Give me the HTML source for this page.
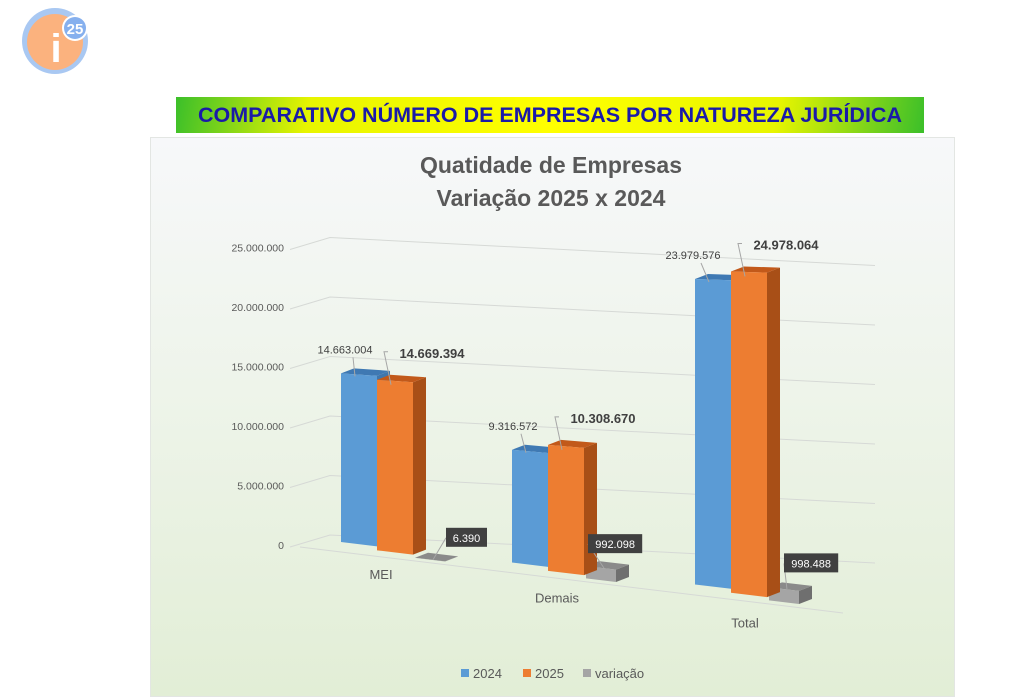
<!DOCTYPE html>
<html><head><meta charset="utf-8">
<style>
body{margin:0;width:1024px;height:695px;background:#fff;overflow:hidden;font-family:"Liberation Sans",sans-serif;position:relative}
#banner{position:absolute;left:176px;top:97px;width:748px;height:36px;background:linear-gradient(100deg,#3bbf2a 0%,#e8f500 18%,#ffff00 50%,#e8f500 80%,#3bbf2a 100%);display:flex;align-items:center;justify-content:center;font-weight:bold;font-size:21.5px;color:#1a1aa8}
#panel{position:absolute;left:150px;top:137px;width:803px;height:558px;background:linear-gradient(180deg,#f7f8fa 0%,#eef4ea 45%,#e2eed6 100%);border:1px solid #e3e6e3}
svg{position:absolute;left:0;top:0}
</style></head><body>
<svg width="100" height="80" style="left:0;top:0">
<circle cx="55" cy="41" r="33" fill="#a9c8f2"/><circle cx="55" cy="42" r="28" fill="#fbb27e"/>
<text x="56" y="62" font-size="40" font-weight="bold" fill="#fff" text-anchor="middle" font-family="Liberation Sans">i</text>
<circle cx="75" cy="28" r="13" fill="#fff"/><circle cx="75" cy="28" r="11" fill="#86b0ee"/>
<text x="75" y="34" font-size="15" font-weight="bold" fill="#fff" text-anchor="middle" font-family="Liberation Sans">25</text>
</svg>
<div id="banner">COMPARATIVO NÚMERO DE EMPRESAS POR NATUREZA JURÍDICA</div>
<div id="panel"></div>
<svg id="chart" width="1024" height="695"></svg>
<script>
const categories=["MEI","Demais","Total"];
const series2024=[14663004,9316572,23979576];
const series2025=[14669394,10308670,24978064];
const seriesVar=[6390,992098,998488];
const labels2024=["14.663.004","9.316.572","23.979.576"];
const labels2025=["14.669.394","10.308.670","24.978.064"];
const labelsVar=["6.390","992.098","998.488"];
const yTicks=[0,5000000,10000000,15000000,20000000,25000000];
const yTickLabels=["0","5.000.000","10.000.000","15.000.000","20.000.000","25.000.000"];

const svg=document.getElementById('chart');
const NS='http://www.w3.org/2000/svg';
function mk(tag,attrs,parent){const e=document.createElementNS(NS,tag);for(const k in attrs)e.setAttribute(k,attrs[k]);(parent||svg).appendChild(e);return e;}
const catX0=[341,512,695];const barW=36;
function floorY(x){return 542+(x-341)*0.12;}
function scale(x){return (11.5+(x-341)*0.0035)/1e6;}
function axisY(v){return 545-v*11.9/1e6;}

const t1=mk('text',{x:551,y:173,'text-anchor':'middle','font-size':23,'font-weight':'bold',fill:'#595959'});
t1.textContent='Quatidade de Empresas';


const t2=mk('text',{x:551,y:206,'text-anchor':'middle','font-size':23,'font-weight':'bold',fill:'#595959'});
t2.textContent='Variação 2025 x 2024';



yTicks.forEach((v,i)=>{
  const y=axisY(v);
  const g=mk('polyline',{points:`290,${y+2} 330,${y-10} 875,${y+18}`,fill:'none',stroke:'#d6d9d6','stroke-width':1});
  
  
  const t=mk('text',{x:284,y:y+4,'text-anchor':'end','font-size':10.5,fill:'#595959'});
  t.textContent=yTickLabels[i];
  
  
});
const fl=mk('line',{x1:300,y1:547,x2:843,y2:613,stroke:'#d6d9d6','stroke-width':1});



function bar(x0,w,v,off,cFront,cSide,cTop,name){
  const x1=x0+w, b0=floorY(x0)+off, b1=floorY(x1)+off;
  const h0=v*scale(x0), h1=v*scale(x1);
  const dx=13, dy=-5;
  const g=mk('g',{});
  
  
  mk('polygon',{points:`${x1},${b1} ${x1+dx},${b1+dy} ${x1+dx},${b1-h1+dy} ${x1},${b1-h1}`,fill:cSide},g);
  mk('polygon',{points:`${x0},${b0-h0} ${x1},${b1-h1} ${x1+dx},${b1-h1+dy} ${x0+dx},${b0-h0+dy}`,fill:cTop},g);
  mk('polygon',{points:`${x0},${b0} ${x1},${b1} ${x1},${b1-h1} ${x0},${b0-h0}`,fill:cFront},g);
  return {x0,x1,top:b0-h0,topR:b1-h1};
}
categories.forEach((c,i)=>{
  const x0=catX0[i];
  const bb=bar(x0,barW,series2024[i],0,'#5b9bd5','#3f77ad','#3f79b3','bar-2024-'+c.toLowerCase());
  const vx=x0+2*barW+2;
  const bv=bar(vx,30,seriesVar[i],7,'#a5a5a5','#6f6f6f','#8a8a8a','bar-variacao-'+c.toLowerCase());
  const bo=bar(x0+barW,barW,series2025[i],4,'#ed7d31','#a84f17','#c2591a','bar-2025-'+c.toLowerCase());
  const l1x=x0+4-i*3, l1y=bb.top-20;
  mk('line',{x1:l1x+8,y1:l1y+4,x2:x0+14,y2:bb.top+3,stroke:'#a6a6a6'});
  const a=mk('text',{x:l1x,y:l1y,'text-anchor':'middle','font-size':11,fill:'#404040'});
  a.textContent=labels2024[i];
  
  
  const l2x=x0+barW+55, l2y=bo.top-22;
  mk('polyline',{points:`${l2x-44},${l2y-6} ${l2x-48},${l2y-6} ${x0+barW+14},${bo.top+5}`,fill:'none',stroke:'#a6a6a6'});
  const b=mk('text',{x:l2x,y:l2y,'text-anchor':'middle','font-size':13,'font-weight':'bold',fill:'#404040'});
  b.textContent=labels2025[i];
  
  
  const bw=labelsVar[i].length*6.6+8, bxL=vx+(i==0?31:i==1?2:15), byT=bv.top-(i==0?30:i==1?32:34);
  mk('line',{x1:bxL,y1:byT+10,x2:vx+18,y2:bv.top+2,stroke:'#a6a6a6'});
  const r=mk('rect',{x:bxL,y:byT,width:bw,height:19,fill:'#404040'});
  
  
  const tv=mk('text',{x:bxL+bw/2,y:byT+14,'text-anchor':'middle','font-size':11,fill:'#fff'});
  tv.textContent=labelsVar[i];
  
  
  const cx=x0+40+i*5, cy=floorY(x0+40)+32+i*3;
  const ct=mk('text',{x:cx,y:cy,'text-anchor':'middle','font-size':13,fill:'#595959'});
  ct.textContent=c;
  
  
});
const leg=[["#5b9bd5","2024",461],["#ed7d31","2025",523],["#a5a5a5","variação",583]];
leg.forEach(l=>{
  const g=mk('g',{});
  
  
  mk('rect',{x:l[2],y:669,width:8,height:8,fill:l[0]},g);
  const t=mk('text',{x:l[2]+12,y:678,'font-size':13,fill:'#595959'},g);
  t.textContent=l[1];
});
</script>
</body></html>
